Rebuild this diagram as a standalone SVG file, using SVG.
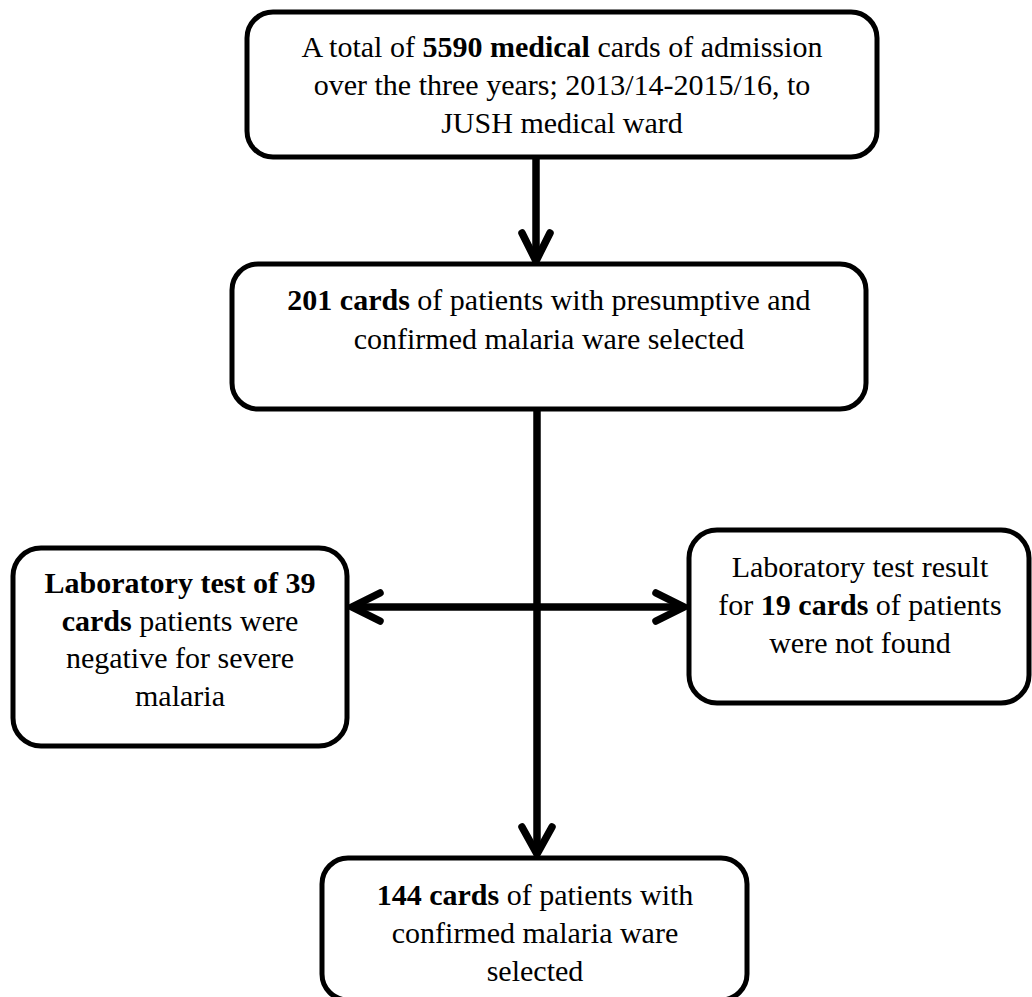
<svg xmlns="http://www.w3.org/2000/svg" width="1032" height="997" viewBox="0 0 1032 997">
<style>
.box{fill:#fff;stroke:#000;stroke-width:5}
.t{font-family:"Liberation Serif","Times New Roman",serif;font-size:30px;fill:#000;text-anchor:middle}
.b{font-weight:bold}
.line{fill:none;stroke:#000;stroke-width:7.5}
.head{fill:none;stroke:#000;stroke-width:7.5;stroke-linecap:round;stroke-linejoin:miter}
</style>
<rect width="1032" height="997" fill="#fff"/>
<g id="connectors">
<line class="line" x1="536" y1="157" x2="536" y2="260"/>
<polyline class="head" points="522,233 536,261 550,233"/>
<line class="line" x1="537" y1="409" x2="537" y2="852"/>
<polyline class="head" points="522,827 537,854 552,827"/>
<line class="line" x1="353" y1="607" x2="683" y2="607"/>
<polyline class="head" points="380,593 352,607 380,621"/>
<polyline class="head" points="656,593 684,607 656,621"/>
</g>
<g id="n1">
<rect class="box" x="247" y="12" width="630" height="145" rx="26"/>
<text class="t" x="562" y="57">A total of <tspan class="b">5590 medical</tspan> cards of admission</text>
<text class="t" x="562" y="95">over the three years; 2013/14-2015/16, to</text>
<text class="t" x="562" y="133">JUSH medical ward</text>
</g>
<g id="n2">
<rect class="box" x="232" y="264" width="634" height="145" rx="26"/>
<text class="t" x="549" y="310"><tspan class="b">201 cards</tspan> of patients with presumptive and</text>
<text class="t" x="549" y="349">confirmed malaria ware selected</text>
</g>
<g id="n3">
<rect class="box" x="13" y="548" width="334" height="198" rx="28"/>
<text class="t b" x="180" y="593">Laboratory test of 39</text>
<text class="t" x="180" y="631"><tspan class="b">cards</tspan> patients were</text>
<text class="t" x="180" y="668">negative for severe</text>
<text class="t" x="180" y="706">malaria</text>
</g>
<g id="n4">
<rect class="box" x="689" y="530" width="340" height="173" rx="28"/>
<text class="t" x="860" y="577">Laboratory test result</text>
<text class="t" x="860" y="615">for <tspan class="b">19 cards</tspan> of patients</text>
<text class="t" x="860" y="653">were not found</text>
</g>
<g id="n5">
<rect class="box" x="322" y="858" width="425" height="142" rx="26"/>
<text class="t" x="535" y="905"><tspan class="b">144 cards</tspan> of patients with</text>
<text class="t" x="535" y="943">confirmed malaria ware</text>
<text class="t" x="535" y="981">selected</text>
</g>
</svg>
